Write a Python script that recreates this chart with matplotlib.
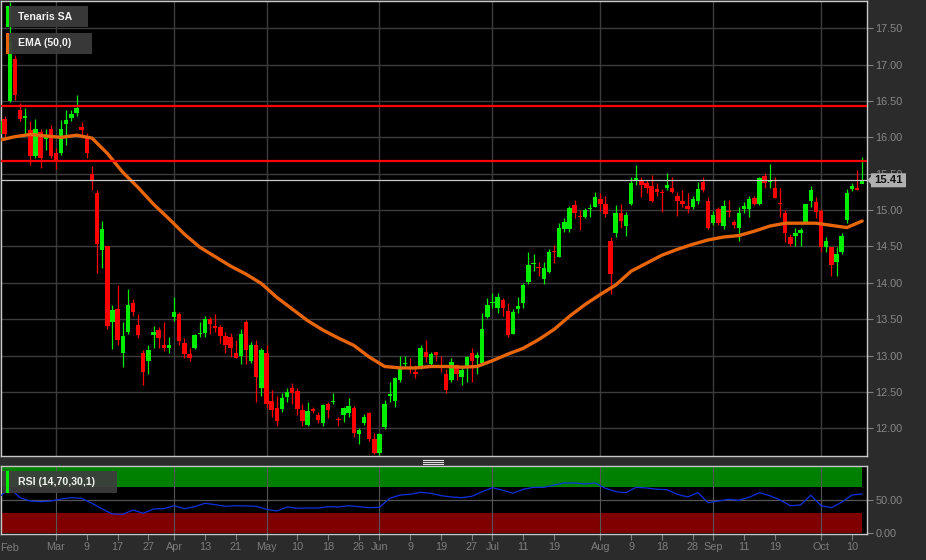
import numpy as np
import pandas as pd
import matplotlib
matplotlib.use("Agg")
import matplotlib.pyplot as plt
from matplotlib.patches import Rectangle, Polygon
from matplotlib.lines import Line2D
from matplotlib.transforms import IdentityTransform, blended_transform_factory

plt.rcParams["font.family"] = ["Liberation Sans", "DejaVu Sans"]

# ---- dados (Borsa Italiana 2023, sessoes de 14/fev a 12/out) ----
HOLIDAYS = ["2023-04-07", "2023-04-10", "2023-05-01", "2023-08-15"]
dates = pd.bdate_range("2023-02-14", "2023-10-12", freq="C", holidays=HOLIDAYS)

open_ = [
    16.05, 16.25, 16.50, 17.08, 16.37, 16.26, 16.10, 15.75, 16.07, 15.98,
    16.11, 15.79, 15.79, 16.18, 16.26, 16.33, 16.14, 16.00, 15.49, 15.23,
    14.45, 14.50, 13.46, 13.64, 13.04, 13.32, 13.72, 13.42, 13.03, 12.93,
    13.28, 13.35, 13.14, 13.11, 13.53, 13.57, 13.17, 13.02, 13.10, 13.30,
    13.31, 13.50, 13.40, 13.39, 13.27, 13.25, 13.04, 13.00, 13.46, 12.93,
    13.15, 12.55, 13.03, 12.37, 12.28, 12.27, 12.43, 12.56, 12.51, 12.25,
    12.04, 12.26, 12.18, 12.07, 12.34, 12.36, 12.12, 12.18, 12.21, 12.28,
    11.92, 12.07, 12.21, 11.85, 11.66, 12.02, 12.45, 12.37, 12.66, 12.88,
    12.83, 12.77, 12.84, 13.05, 12.89, 13.05, 12.87, 12.75, 12.66, 12.87,
    12.70, 12.86, 13.03, 12.97, 12.90, 13.53, 13.72, 13.65, 13.76, 13.61,
    13.30, 13.64, 13.72, 14.01, 14.26, 14.21, 14.05, 14.15, 14.43, 14.35,
    14.74, 14.74, 15.07, 14.92, 14.90, 15.02, 15.04, 15.15, 15.08, 14.58,
    14.69, 14.96, 14.78, 15.08, 15.41, 15.40, 15.37, 15.33, 15.29, 15.24,
    15.30, 15.30, 15.19, 15.13, 15.06, 15.04, 15.12, 15.38, 15.12, 14.82,
    15.01, 14.78, 14.98, 14.84, 14.76, 15.02, 15.02, 15.16, 15.08, 15.47,
    15.38, 15.31, 15.09, 14.96, 14.63, 14.64, 14.69, 14.83, 15.13, 15.11,
    14.99, 14.49, 14.49, 14.28, 14.43, 14.86, 15.29, 15.30, 15.36,
]
high = [
    16.30, 16.30, 17.86, 17.13, 16.47, 16.40, 16.22, 16.25, 16.12, 16.12,
    16.17, 15.85, 16.24, 16.37, 16.38, 16.58, 16.21, 16.06, 15.60, 15.28,
    14.85, 14.50, 13.70, 13.97, 13.46, 13.92, 13.78, 13.57, 13.07, 13.15,
    13.40, 13.39, 13.46, 13.25, 13.80, 13.60, 13.24, 13.10, 13.29, 13.46,
    13.54, 13.53, 13.57, 13.42, 13.32, 13.31, 13.21, 13.36, 13.49, 13.19,
    13.22, 13.11, 13.14, 12.52, 12.45, 12.48, 12.56, 12.62, 12.56, 12.34,
    12.36, 12.29, 12.22, 12.34, 12.36, 12.49, 12.15, 12.29, 12.41, 12.31,
    12.01, 12.20, 12.22, 11.93, 11.94, 12.39, 12.63, 12.70, 12.99, 12.99,
    12.96, 12.87, 13.15, 13.22, 13.05, 13.05, 13.00, 12.81, 12.96, 12.89,
    12.87, 13.00, 13.10, 13.05, 13.58, 13.79, 13.86, 13.86, 13.79, 13.72,
    13.64, 13.80, 14.00, 14.42, 14.39, 14.28, 14.28, 14.47, 14.52, 14.82,
    14.89, 15.05, 15.14, 15.00, 15.03, 15.09, 15.25, 15.23, 15.19, 14.63,
    15.07, 15.09, 14.97, 15.45, 15.62, 15.45, 15.42, 15.48, 15.37, 15.29,
    15.51, 15.45, 15.25, 15.27, 15.23, 15.20, 15.38, 15.45, 15.18, 14.99,
    15.04, 15.14, 15.14, 14.86, 15.04, 15.11, 15.20, 15.20, 15.45, 15.51,
    15.64, 15.46, 15.30, 15.00, 14.67, 14.75, 14.75, 15.09, 15.33, 15.18,
    15.02, 14.63, 14.49, 14.49, 14.69, 15.29, 15.37, 15.55, 15.73,
]
low = [
    16.00, 16.00, 16.48, 16.51, 16.23, 16.05, 15.62, 15.72, 15.58, 15.83,
    15.71, 15.57, 15.76, 15.89, 16.23, 16.30, 15.99, 15.71, 15.27, 14.14,
    14.21, 13.37, 13.09, 13.14, 12.84, 13.30, 13.55, 13.24, 12.60, 12.74,
    13.11, 13.11, 13.06, 13.03, 13.47, 13.14, 12.96, 12.93, 13.09, 13.25,
    13.25, 13.29, 13.32, 13.17, 13.04, 12.98, 12.96, 12.89, 12.89, 12.90,
    12.36, 12.45, 12.28, 12.15, 12.03, 12.22, 12.36, 12.34, 12.18, 12.03,
    12.03, 12.21, 12.07, 12.03, 12.14, 12.33, 12.03, 12.09, 12.15, 11.88,
    11.78, 12.04, 11.83, 11.65, 11.63, 11.99, 12.36, 12.29, 12.63, 12.83,
    12.76, 12.69, 12.81, 12.91, 12.86, 12.93, 12.77, 12.49, 12.63, 12.66,
    12.59, 12.63, 12.63, 12.74, 12.89, 13.51, 13.66, 13.58, 13.55, 13.25,
    13.29, 13.59, 13.66, 13.98, 14.16, 14.10, 13.98, 14.13, 14.27, 14.35,
    14.70, 14.70, 14.89, 14.72, 14.89, 14.90, 15.04, 14.99, 14.90, 13.84,
    14.63, 14.76, 14.65, 15.07, 15.34, 15.18, 15.23, 15.11, 15.20, 14.98,
    15.27, 15.23, 14.92, 15.04, 14.96, 15.02, 15.09, 15.25, 14.74, 14.79,
    14.80, 14.74, 14.90, 14.76, 14.58, 14.96, 14.90, 15.07, 15.07, 15.31,
    15.31, 15.16, 14.90, 14.56, 14.50, 14.50, 14.50, 14.82, 15.04, 14.89,
    14.42, 14.42, 14.10, 14.10, 14.40, 14.82, 15.26, 15.27, 15.37,
]
close = [
    16.22, 16.05, 17.33, 16.58, 16.25, 16.29, 15.75, 16.12, 15.71, 16.00,
    15.74, 15.68, 16.11, 16.24, 16.32, 16.40, 16.10, 15.78, 15.41, 14.54,
    14.74, 13.40, 13.62, 13.22, 13.27, 13.70, 13.60, 13.28, 12.78, 13.07,
    13.33, 13.24, 13.10, 13.15, 13.60, 13.20, 13.02, 12.96, 13.28, 13.31,
    13.50, 13.43, 13.38, 13.27, 13.14, 13.11, 12.97, 13.30, 13.07, 13.14,
    12.71, 13.07, 12.34, 12.25, 12.10, 12.41, 12.50, 12.48, 12.26, 12.10,
    12.24, 12.24, 12.12, 12.32, 12.25, 12.37, 12.11, 12.28, 12.30, 11.93,
    11.98, 12.15, 11.85, 11.66, 11.92, 12.34, 12.47, 12.69, 12.83, 12.89,
    12.82, 12.75, 13.10, 12.98, 13.02, 13.01, 12.85, 12.53, 12.91, 12.74,
    12.80, 12.98, 12.93, 13.01, 13.37, 13.70, 13.74, 13.81, 13.66, 13.28,
    13.60, 13.68, 13.97, 14.24, 14.27, 14.20, 14.20, 14.43, 14.42, 14.76,
    14.83, 15.03, 14.96, 14.91, 15.00, 15.03, 15.18, 15.09, 14.94, 14.12,
    14.96, 14.85, 14.93, 15.37, 15.44, 15.34, 15.31, 15.13, 15.25, 15.23,
    15.34, 15.25, 15.12, 15.09, 15.02, 15.15, 15.29, 15.27, 14.75, 14.93,
    14.82, 15.05, 14.97, 14.79, 14.96, 15.05, 15.15, 15.09, 15.44, 15.37,
    15.41, 15.16, 15.08, 14.68, 14.54, 14.69, 14.72, 15.08, 15.27, 14.98,
    14.49, 14.57, 14.24, 14.40, 14.65, 15.23, 15.33, 15.28, 15.41,
]

ema50 = [
    15.96, 16.01, 16.04, 16.02, 16.00, 16.03, 15.99, 15.78, 15.52, 15.31,
    15.08, 14.88, 14.67, 14.49, 14.36, 14.23, 14.12, 13.99, 13.80, 13.64,
    13.48, 13.35, 13.24, 13.14, 12.98, 12.85, 12.83, 12.83, 12.85, 12.85,
    12.84, 12.85, 12.93, 13.02, 13.10, 13.22, 13.36, 13.54, 13.70, 13.84,
    13.97, 14.16, 14.27, 14.38, 14.46, 14.53, 14.59, 14.63, 14.65, 14.71,
    14.78, 14.82, 14.82, 14.82, 14.79, 14.76, 14.85,
]
rsi14 = [
    55.1, 68.0, 53.6, 48.5, 47.5, 48.5, 51.6, 53.6, 52.6, 45.0,
    36.3, 28.6, 28.1, 34.8, 29.7, 36.3, 36.8, 41.3, 36.8, 39.8,
    45.0, 42.9, 40.4, 41.3, 40.9, 40.4, 35.8, 33.2, 39.4, 37.4,
    37.8, 37.8, 39.8, 39.4, 41.3, 39.8, 38.3, 38.9, 52.6, 57.7,
    58.8, 61.9, 60.3, 56.7, 54.7, 53.6, 55.7, 62.8, 68.9, 64.9,
    60.3, 66.5, 69.5, 69.5, 73.0, 76.1, 76.1, 74.6, 76.1, 68.0,
    62.8, 61.3, 69.5, 68.5, 66.5, 65.9, 58.8, 54.7, 61.3, 45.9,
    48.5, 51.1, 49.6, 54.2, 61.3, 56.7, 50.1, 41.3, 42.4, 57.3,
    41.3, 38.3, 46.6, 57.7, 59.3,
]

levels = [16.43, 15.67]          # linhas horizontais vermelhas
day_ticks = ["2023-03-09", "2023-03-17", "2023-03-27", "2023-04-13", "2023-04-21",
             "2023-05-10", "2023-05-18", "2023-05-26", "2023-06-09", "2023-06-19",
             "2023-06-27", "2023-07-11", "2023-07-19", "2023-08-09", "2023-08-18",
             "2023-08-28", "2023-09-11", "2023-09-19", "2023-10-10"]
first_label = ("2023-02-16", "Feb")

# ---- figura ----
W, H = 926, 560
BG = "#2b2b2b"
GREEN, RED = "#00ee00", "#ff0000"
fig = plt.figure(figsize=(W / 100, H / 100), dpi=100, facecolor=BG)


def fx(px):
    return px / W


def fy(py):
    return 1 - py / H


ax = fig.add_axes([fx(1), fy(455.5), fx(866.5) - fx(1), fy(1) - fy(455.5)])
ax_rsi = fig.add_axes([fx(1), fy(534), fx(866.5) - fx(1), fy(466) - fy(534)])

x = np.arange(len(dates))
o, h, l, c = map(np.asarray, (open_, high, low, close))
up = c >= o
cols = np.where(up, GREEN, RED)

month_pos = [i for i in range(1, len(dates)) if dates[i].month != dates[i - 1].month]
month_lab = [dates[i].strftime("%b") for i in month_pos]
day_pos = list(dates.get_indexer(pd.to_datetime(day_ticks)))
day_lab = [str(pd.Timestamp(d).day) for d in day_ticks]

XLIM = (0.29, 168.84)
for a in (ax, ax_rsi):
    a.set_facecolor("black")
    a.set_xlim(*XLIM)
    for s in a.spines.values():
        s.set_color("#c8c8c8")
        s.set_linewidth(1.0)
    a.set_xticks(month_pos)
    a.set_xticks(day_pos, minor=True)
    a.yaxis.tick_right()

# ---- painel de precos ----
ax.set_ylim(11.626, 17.875)
ax.set_yticks(np.arange(12.0, 17.51, 0.5))
ax.set_yticklabels([f"{v:.2f}" for v in np.arange(12.0, 17.51, 0.5)])
ax.grid(True, color="#3c3c3c", lw=1.0)
ax.set_axisbelow(True)
ax.tick_params(axis="x", which="both", length=0, labelbottom=False)
ax.tick_params(axis="y", colors="#808080", labelcolor="#888888", labelsize=7.8,
               length=4, width=0.8, pad=2.5)

body_lo = np.minimum(o, c)
body_h = np.maximum(np.abs(c - o), 0.014)
ax.vlines(x, l, h, colors=cols, lw=0.9, zorder=2.5)
ax.bar(x, body_h, bottom=body_lo, width=0.86, color=cols, lw=0, zorder=3)

ax.plot(x[::3], ema50, color="#e8650a", lw=2.4, zorder=4, solid_capstyle="round")
ax.axhline(close[-1], color="#c8c8c8", lw=0.9, zorder=4.5)
for lv in levels:
    ax.axhline(lv, color=RED, lw=1.6, zorder=5)

# ---- painel RSI ----
ax_rsi.set_ylim(-1.99, 102.1)
ax_rsi.fill_between([XLIM[0], x[-1]], 70, 100, color="#008000", lw=0, zorder=1)
ax_rsi.fill_between([XLIM[0], x[-1]], 0, 30, color="#800000", lw=0, zorder=1)
ax_rsi.axhline(50, color="#555555", lw=0.9, zorder=1.5)
ax_rsi.grid(True, axis="x", which="major", color="#555555", lw=0.8)
ax_rsi.plot(x[::2], rsi14, color="#1030e0", lw=0.9, zorder=3)
ax_rsi.set_yticks([0, 50])
ax_rsi.set_yticklabels(["0.00", "50.00"])
ax_rsi.tick_params(axis="y", colors="#808080", labelcolor="#888888", labelsize=7.8,
                   length=4, width=0.8, pad=2.5)
ax_rsi.set_xticklabels(month_lab)
ax_rsi.set_xticklabels(day_lab, minor=True)
ax_rsi.tick_params(axis="x", which="both", colors="#808080", labelcolor="#7c7c7c",
                   labelsize=7.8, length=4, width=0.8, pad=2.0)
tr = blended_transform_factory(ax_rsi.transData, ax_rsi.transAxes)
ax_rsi.text(dates.get_loc(pd.Timestamp(first_label[0])), -0.21, first_label[1],
            transform=tr, ha="center", va="center", fontsize=7.8, color="#7c7c7c")

# ---- caixas de legenda ----
def legend_box(x0, x1, y0, y1, colour, label):
    fig.add_artist(Rectangle((fx(x0), fy(y1)), fx(x1) - fx(x0), (y1 - y0) / H,
                             transform=fig.transFigure, fc="#3d3d3d", ec="none", alpha=0.92))
    fig.add_artist(Rectangle((fx(6), fy(y1)), fx(3), (y1 - y0) / H,
                             transform=fig.transFigure, fc=colour, ec="none"))
    fig.text(fx(18), fy((y0 + y1) / 2), label, ha="left", va="center",
             fontsize=7.6, fontweight="bold", color="#f2f2f2")


legend_box(6, 88, 6, 27, GREEN, "Tenaris SA")
legend_box(6, 92, 33, 54, "#e8650a", "EMA (50,0)")
legend_box(2, 117, 471, 493, GREEN, "RSI (14,70,30,1)")

# alca de redimensionar entre os paineis
for yy in (459.7, 461.7, 463.7):
    fig.add_artist(Line2D([fx(423), fx(443)], [fy(yy), fy(yy)],
                          transform=fig.transFigure, color="#e0e0e0", lw=0.8))

# etiqueta do ultimo preco (cobre parte do rotulo 15.50, como no original)
fig.canvas.draw()
yc = ax.transData.transform((0, close[-1]))[1]
tip, bx0, bx1, hh = 867.5, 871.0, 906.0, 7.0
fig.add_artist(Polygon([(tip, yc), (bx0, yc + 4), (bx0, yc + hh), (bx1, yc + hh),
                        (bx1, yc - hh), (bx0, yc - hh), (bx0, yc - 4)],
                       closed=True, transform=IdentityTransform(),
                       fc="#b0b0b0", ec="none", zorder=5))
fig.text((bx0 + bx1) / 2 / W, yc / H, f"{close[-1]:.2f}", ha="center", va="center",
         fontsize=8.2, fontweight="bold", color="#111111", zorder=6)

fig.savefig("out.png", dpi=100, facecolor=BG)
